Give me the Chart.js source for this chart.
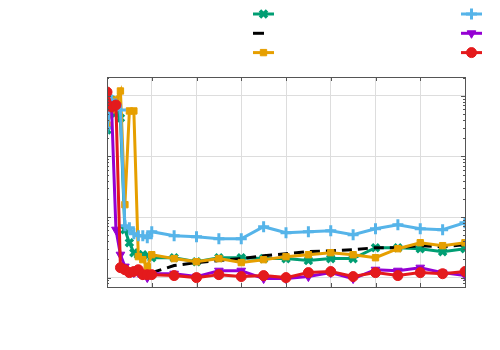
<!DOCTYPE html>
<html>
<head>
<meta charset="utf-8">
<script src="https://cdn.jsdelivr.net/npm/chart.js"></script>
<style>
  html, body { margin: 0; padding: 0; background: #fff; }
</style>
</head>
<body>
<canvas id="chart" width="500" height="350"></canvas>
<script>
// x-Werte, gemeinsam fuer alle Reihen
const xWerte = [0, 1, 2, 3, 4, 5, 6, 7, 8, 9, 10, 15, 20, 25, 30, 35, 40, 45, 50, 55, 60, 65, 70, 75, 80];

// Reihen (log-Achse)
const gruen   = [274, 856, 523, 432, 6.18, 3.77, 2.58, 2.39, 2.39, 2.30, 2.13, 2.13, 1.83, 2.13, 2.13, 2.06, 2.06, 1.91, 2.06, 2.06, 3.12, 3.12, 3.00, 2.68, 3.00];
const schwarz = [null, null, null, null, null, null, null, null, null, null, 1.21, 1.58, 1.77, 1.91, 2.06, 2.30, 2.48, 2.68, 2.78, 2.89, 3.12, 3.12, 3.37, 3.24, 3.50];
const orange  = [332, 586, 856, 1205, 16.0, 564, 564, 2.22, 1.98, 1.52, 2.39, 2.06, 1.83, 2.06, 1.77, 1.98, 2.22, 2.39, 2.58, 2.39, 2.13, 3.00, 3.77, 3.37, 3.77];
const blau    = [296, 856, 708, 586, 7.19, 6.66, 5.31, 4.92, 4.92, 4.56, 5.72, 4.92, 4.73, 4.39, 4.39, 6.92, 5.51, 5.72, 5.95, 5.11, 6.42, 7.47, 6.42, 6.18, 8.06];
const lila    = [1035, 708, 6.18, 2.39, 1.52, 1.30, 1.21, 1.21, 1.12, 1.00, 1.16, 1.16, 1.04, 1.30, 1.30, 0.963, 0.963, 1.04, 1.21, 0.963, 1.35, 1.30, 1.46, 1.21, 1.08];
const rot     = [1159, 656, 708, 1.46, 1.35, 1.21, 1.26, 1.35, 1.12, 1.12, 1.12, 1.08, 1.00, 1.12, 1.04, 1.08, 1.00, 1.21, 1.26, 1.04, 1.21, 1.08, 1.21, 1.16, 1.26];

// Legendentexte sind im Original leer
const legendeTexte = ['', '', '', '', '', ''];

// Achsenbereiche
const xMin = 0, xMax = 80, xSchritt = 10;
const yMin = 0.711, yMax = 2050;

function punkte(arr) {
  return xWerte.map((x, i) => ({ x: x, y: arr[i] }));
}

// Rahmen und nach innen zeigende Striche (matplotlib-Stil)
const rahmenPlugin = {
  id: 'rahmen',
  afterDatasetsDraw(chart) {
    const ctx = chart.ctx;
    const a = chart.chartArea;
    const xs = chart.scales.x, ys = chart.scales.y;
    ctx.save();
    ctx.strokeStyle = '#555';
    ctx.lineWidth = 1;
    ctx.beginPath();
    for (let v = xMin; v <= xMax; v += xSchritt) {
      const px = Math.round(xs.getPixelForValue(v)) + 0.5;
      ctx.moveTo(px, a.bottom); ctx.lineTo(px, a.bottom - 4);
      ctx.moveTo(px, a.top); ctx.lineTo(px, a.top + 4);
    }
    for (let d = -1; d <= 3; d++) {
      for (let m = 1; m <= 9; m++) {
        const v = m * Math.pow(10, d);
        if (v < yMin || v > yMax) continue;
        const py = Math.round(ys.getPixelForValue(v)) + 0.5;
        const len = m === 1 ? 4 : 2;
        ctx.moveTo(a.left, py); ctx.lineTo(a.left + len, py);
        ctx.moveTo(a.right, py); ctx.lineTo(a.right - len, py);
      }
    }
    ctx.stroke();
    ctx.strokeRect(Math.round(a.left) + 0.5, Math.round(a.top) + 0.5,
                   Math.round(a.right - a.left), Math.round(a.bottom - a.top));
    ctx.restore();
  }
};

// Legende in zwei Spalten, drei Zeilen
const legendePlugin = {
  id: 'legende2',
  afterDraw(chart) {
    const ctx = chart.ctx;
    chart.data.datasets.forEach((ds, i) => {
      const spalte = i < 3 ? 0 : 1;
      const zeile = i % 3;
      const x0 = spalte === 0 ? 253 : 461;
      const y = 14 + zeile * 19.3;
      ctx.save();
      ctx.strokeStyle = ds.borderColor;
      ctx.lineWidth = ds.borderWidth;
      if (ds.borderDash && ds.borderDash.length) ctx.setLineDash([11, 30]);
      ctx.beginPath();
      ctx.moveTo(x0, y);
      ctx.lineTo(x0 + 21, y);
      ctx.stroke();
      ctx.restore();
      if (ds.pointRadius > 0) {
        ctx.save();
        ctx.fillStyle = ds.pointBackgroundColor;
        ctx.strokeStyle = ds.pointBorderColor;
        ctx.lineWidth = ds.pointBorderWidth;
        Chart.helpers.drawPoint(ctx, {
          pointStyle: ds.pointStyle,
          radius: ds.pointRadius,
          rotation: ds.pointRotation || 0,
          borderWidth: ds.pointBorderWidth
        }, x0 + 10.5, y);
        ctx.restore();
      }
      // leere Beschriftung
      ctx.fillText(legendeTexte[i], x0 + 28, y + 4);
    });
  }
};

function reihe(arr, farbe, stil, radius, extra) {
  return Object.assign({
    data: punkte(arr),
    borderColor: farbe,
    backgroundColor: farbe,
    borderWidth: 3,
    pointStyle: stil,
    pointRadius: radius,
    pointHoverRadius: radius,
    pointBackgroundColor: farbe,
    pointBorderColor: farbe,
    pointBorderWidth: 1,
    tension: 0,
    fill: false
  }, extra || {});
}

const datensaetze = [
  reihe(gruen, '#009E73', 'crossRot', 5, { pointBorderWidth: 3.5, order: 6 }),
  reihe(schwarz, '#000000', 'circle', 0, { borderDash: [10, 6], order: 5 }),
  reihe(orange, '#E69F00', 'rect', 4.5, { order: 4 }),
  reihe(blau, '#56B4E9', 'cross', 5.5, { pointBorderWidth: 3, order: 3 }),
  reihe(lila, '#9400D3', 'triangle', 5, { pointRotation: 180, order: 2 }),
  reihe(rot, '#E41A1C', 'circle', 5, { order: 1 })
];

const ctx = document.getElementById('chart').getContext('2d');
new Chart(ctx, {
  type: 'line',
  data: { datasets: datensaetze },
  options: {
    responsive: false,
    animation: false,
    layout: { padding: { left: 107, right: 35, top: 77, bottom: 63 } },
    plugins: {
      legend: { display: false },
      tooltip: { enabled: false }
    },
    scales: {
      x: {
        type: 'linear',
        min: xMin,
        max: xMax,
        ticks: { display: false, stepSize: xSchritt },
        grid: { color: '#dddddd', lineWidth: 1, drawTicks: false },
        border: { display: false }
      },
      y: {
        type: 'logarithmic',
        min: yMin,
        max: yMax,
        ticks: { display: false },
        grid: {
          drawTicks: false,
          lineWidth: 1,
          color: (c) => {
            const v = c.tick ? c.tick.value : 0;
            const l = Math.log10(v);
            return Math.abs(l - Math.round(l)) < 1e-6 ? '#dddddd' : 'rgba(0,0,0,0)';
          }
        },
        border: { display: false }
      }
    }
  },
  plugins: [rahmenPlugin, legendePlugin]
});
</script>
</body>
</html>
